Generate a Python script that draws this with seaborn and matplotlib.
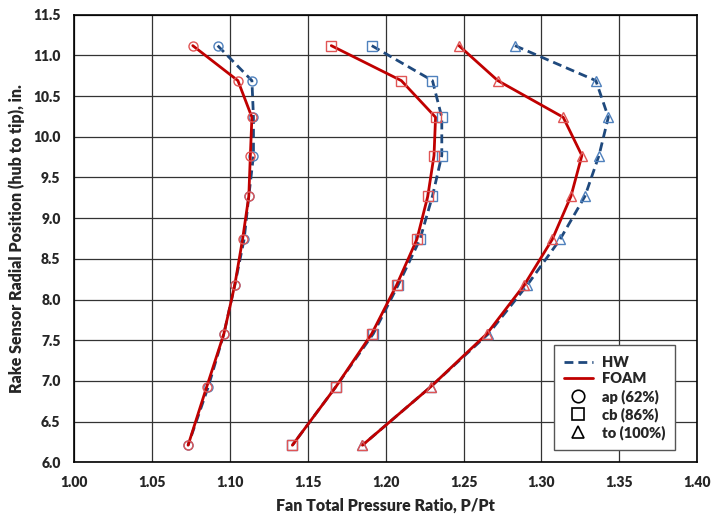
import matplotlib
matplotlib.use("Agg")
import matplotlib.pyplot as plt
import seaborn as sns
import pandas as pd
from matplotlib.lines import Line2D

# rake positions (hub to tip), in.
radial_pos = [11.12, 10.69, 10.24, 9.77, 9.27, 8.74, 8.18, 7.58, 6.93, 6.21]

# fan total pressure ratio per speed line
ap_hw = [1.092, 1.114, 1.115, 1.115, 1.112, 1.109, 1.103, 1.096, 1.086, 1.073]
ap_foam = [1.076, 1.105, 1.114, 1.113, 1.112, 1.108, 1.103, 1.096, 1.085, 1.073]
cb_hw = [1.191, 1.230, 1.236, 1.236, 1.230, 1.222, 1.208, 1.192, 1.168, 1.140]
cb_foam = [1.165, 1.210, 1.232, 1.231, 1.227, 1.220, 1.207, 1.191, 1.168, 1.140]
to_hw = [1.283, 1.335, 1.343, 1.337, 1.328, 1.312, 1.291, 1.266, 1.229, 1.185]
to_foam = [1.247, 1.272, 1.314, 1.326, 1.319, 1.307, 1.289, 1.265, 1.229, 1.185]

hw_color = '#1F497D'
hw_mark = '#4F81BD'
foam_color = '#C00000'
foam_mark = '#E05555'

sns.set_style("white")
plt.rcParams['font.family'] = ['Lato', 'DejaVu Sans']
plt.rcParams['font.weight'] = 'bold'

fig, ax = plt.subplots(figsize=(7.12, 5.18), dpi=100)
fig.subplots_adjust(left=0.1046, right=0.979, top=0.9716, bottom=0.1075)

series = [
    ('ap', 'HW', ap_hw, 'o'), ('ap', 'FOAM', ap_foam, 'o'),
    ('cb', 'HW', cb_hw, 's'), ('cb', 'FOAM', cb_foam, 's'),
    ('to', 'HW', to_hw, '^'), ('to', 'FOAM', to_foam, '^'),
]

for cond, src, vals, mk in series:
    df = pd.DataFrame({'pr': vals, 'r': radial_pos})
    if src == 'HW':
        sns.lineplot(data=df, x='pr', y='r', sort=False, estimator=None, ax=ax,
                     color=hw_color, lw=2, dashes=False, linestyle=(0, (3.2, 1.8)),
                     marker=mk, markersize=6.5, markerfacecolor='none',
                     markeredgecolor=hw_mark, markeredgewidth=1.0, zorder=3)
    else:
        sns.lineplot(data=df, x='pr', y='r', sort=False, estimator=None, ax=ax,
                     color=foam_color, lw=2,
                     marker=mk, markersize=6.5, markerfacecolor='none',
                     markeredgecolor=foam_mark, markeredgewidth=1.0, zorder=4)

ax.set_xlim(1.00, 1.40)
ax.set_ylim(6.0, 11.5)
ax.set_xticks([1.00 + 0.05 * i for i in range(9)])
ax.set_yticks([6.0 + 0.5 * i for i in range(12)])
ax.set_xticklabels([f"{1.00 + 0.05 * i:.2f}" for i in range(9)], fontsize=10, fontweight='heavy')
ax.set_yticklabels([f"{6.0 + 0.5 * i:.1f}" for i in range(12)], fontsize=10, fontweight='heavy')
ax.tick_params(axis='both', direction='out', length=4, width=1, color='#888888', pad=6)
ax.grid(True, color='#333333', lw=0.9)
ax.set_axisbelow(True)
for s in ax.spines.values():
    s.set_color('black')
    s.set_linewidth(1.2)

ax.set_xlabel("Fan Total Pressure Ratio, P/Pt", fontsize=11.5, fontweight='heavy', labelpad=6)
ax.set_ylabel("Rake Sensor Radial Position (hub to tip), in.", fontsize=11.5, fontweight='heavy', labelpad=6)

handles = [
    Line2D([], [], color=hw_color, lw=2, linestyle=(0, (3.2, 1.8))),
    Line2D([], [], color=foam_color, lw=2),
    Line2D([], [], color='black', lw=0, marker='o', markersize=9, markerfacecolor='none', markeredgewidth=1.2),
    Line2D([], [], color='black', lw=0, marker='s', markersize=9, markerfacecolor='none', markeredgewidth=1.2),
    Line2D([], [], color='black', lw=0, marker='^', markersize=9, markerfacecolor='none', markeredgewidth=1.2),
]
labels = ['HW', 'FOAM', 'ap (62%)', 'cb (86%)', 'to (100%)']
leg = ax.legend(handles, labels, loc='lower right', bbox_to_anchor=(0.965, 0.027),
                borderaxespad=0, fontsize=10.5, frameon=True, fancybox=False, framealpha=1,
                edgecolor='#555555', handlelength=2.0, labelspacing=0.25,
                borderpad=0.7, handletextpad=0.6)
leg.get_frame().set_linewidth(1.0)
for t in leg.get_texts():
    t.set_fontweight('heavy')

fig.savefig("out.png", dpi=100)
